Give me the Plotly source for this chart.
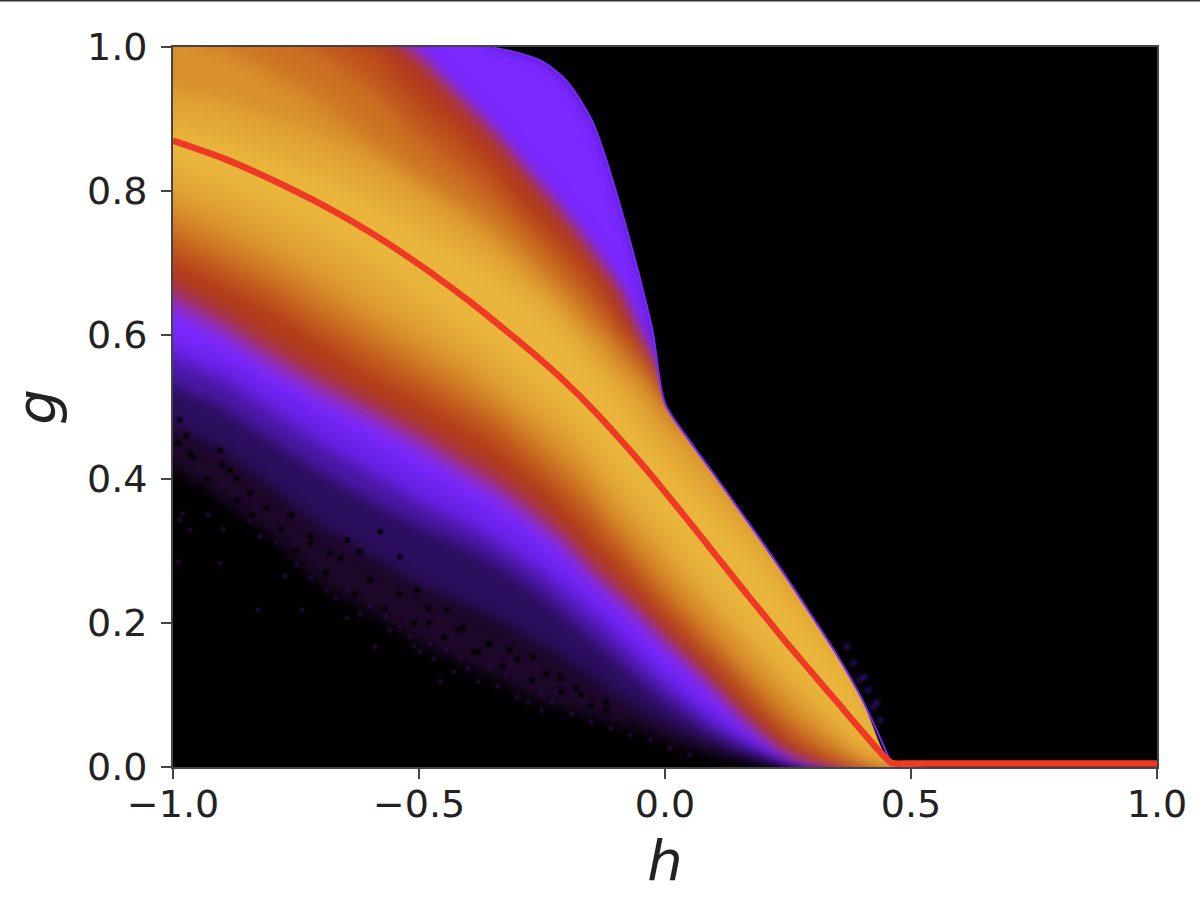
import plotly.graph_objects as go

# columns the colour bands are read at
h_pts = [-1.03, -0.9, -0.8, -0.7, -0.6, -0.5, -0.4, -0.35, -0.3, -0.25, -0.2, -0.15, -0.125, -0.1,
         -0.075, -0.05, -0.025, 0, 0.05, 0.1, 0.15, 0.2, 0.25, 0.3, 0.35, 0.4, 0.46, 0.5]

# upper edge of the populated area
edge = [1.03, 1.03, 1.03, 1.03, 1.03, 1.03, 1.03, 0.999, 0.992, 0.98, 0.953, 0.90, 0.855, 0.80,
        0.74, 0.676, 0.605, 0.505, 0.453, 0.406, 0.358, 0.31, 0.26, 0.208, 0.155, 0.095, 0.005, 0.005]

# lower limit of each colour band, outermost first
low0 = [.43, .37, .32, .255, .215, .172, .14, .125, .105, .09, .08, .07, .065, .06, .055, .05, .045, .035, .025, .016, .01, .006, .003, .001, 0, 0, 0, 0]
low_a = [.485, .44, .39, .335, .295, .255, .225, .21, .19, .17, .15, .125, .113, .10, .09, .08, .07, .06, .044, .03, .018, .01, .005, .002, 0, 0, 0, 0]
low1 = [.54, .50, .455, .41, .37, .335, .305, .285, .262, .238, .208, .178, .163, .148, .133, .118, .104, .09, .066, .045, .029, .016, .007, .003, .001, 0, 0, 0]
low2 = [.575, .54, .495, .45, .41, .37, .335, .315, .292, .268, .24, .21, .195, .178, .162, .146, .13, .114, .086, .06, .04, .024, .012, .005, .002, 0, 0, 0]
low3 = [.60, .57, .53, .49, .45, .41, .37, .35, .327, .30, .27, .24, .223, .206, .19, .173, .157, .14, .108, .08, .055, .033, .018, .008, .003, .001, 0, 0]
low4 = [.645, .595, .55, .51, .475, .437, .395, .375, .35, .324, .296, .258, .243, .229, .214, .198, .181, .164, .133, .10, .066, .037, .013, .005, .002, .001, .0003, 0]
low5 = [.665, .615, .57, .53, .495, .457, .414, .394, .37, .342, .314, .275, .26, .245, .23, .214, .196, .179, .148, .114, .078, .047, .02, .008, .003, .001, .0005, 0]
low6 = [.685, .635, .59, .55, .513, .475, .433, .412, .388, .36, .33, .292, .277, .26, .245, .23, .212, .194, .16, .126, .09, .057, .028, .012, .005, .002, .001, 0]
low7 = [.715, .67, .635, .59, .545, .51, .47, .45, .42, .395, .36, .325, .305, .29, .27, .252, .232, .215, .18, .146, .11, .074, .042, .021, .009, .003, .001, 0]
low8 = [.74, .70, .665, .62, .58, .54, .50, .48, .45, .42, .39, .355, .335, .315, .295, .275, .255, .237, .20, .165, .128, .092, .058, .032, .015, .005, .002, 0]
low9 = [.77, .73, .695, .655, .61, .57, .53, .505, .48, .45, .42, .385, .362, .34, .32, .30, .28, .26, .22, .185, .148, .113, .078, .05, .027, .01, .003, 0]
low10 = [.80, .765, .73, .69, .645, .605, .56, .535, .505, .48, .45, .415, .39, .37, .35, .33, .31, .29, .25, .212, .175, .14, .103, .072, .043, .02, .004, 0]
low11 = [.84, .805, .775, .74, .70, .65, .60, .58, .545, .52, .49, .455, .43, .41, .39, .37, .35, .33, .285, .245, .205, .17, .13, .095, .062, .03, .005, 0]

# upper limit of the bands that stop short of the edge
up4 = [1.03, 1.03, 1.03, 1.03, 1.03, .998, .928, .893, .853, .813, .773, .727, .704, .68, .642, .60, .563, .499, .447, .40, .352, .304, .254, .202, .15, .09, .005, .005]
up5 = [1.03, 1.03, 1.03, 1.03, 1.03, .985, .915, .88, .84, .80, .76, .715, .692, .668, .632, .592, .557, .498, .446, .399, .351, .303, .253, .201, .149, .09, .005, .005]
up6 = [1.03, 1.03, 1.03, 1.03, 1.03, .975, .905, .87, .83, .79, .75, .705, .683, .66, .625, .585, .55, .497, .445, .398, .35, .302, .252, .20, .148, .09, .005, .005]
up7 = [1.03, 1.03, 1.03, 1.03, 1.0, .925, .865, .83, .785, .75, .715, .675, .645, .61, .595, .57, .54, .495, .444, .397, .349, .301, .251, .199, .147, .09, .005, .005]
up8 = [1.03, 1.03, 1.03, .995, .945, .875, .82, .79, .755, .72, .685, .645, .625, .60, .58, .56, .53, .49, .443, .396, .348, .30, .25, .198, .146, .09, .005, .005]
up9 = [1.03, 1.0, .965, .925, .87, .82, .775, .75, .72, .685, .65, .61, .595, .575, .555, .54, .52, .50, .47, .43, .38, .33, .28, .225, .175, .115, .03, .02]
up10 = [.94, .925, .90, .875, .84, .80, .75, .725, .695, .665, .63, .59, .57, .55, .535, .515, .495, .47, .44, .40, .36, .32, .27, .22, .17, .11, .03, .02]
up11 = [.895, .875, .85, .825, .79, .75, .71, .69, .66, .635, .60, .56, .54, .52, .50, .47, .45, .43, .39, .355, .32, .28, .235, .195, .15, .095, .02, .02]

band_colors = ["#1c0728", "#2c0e5e", "#4a18a5", "#6a22e8", "#7a28ff", "#8c2dc8", "#a4325a", "#b03a1c",
               "#c0541d", "#cc7224", "#d8902d", "#e2a635", "#e9b53c"]

# isolated cells of the noisy lower fringe
speck_h = [-.989, -.904, -.772, -.827, -.738, -.647, -.589, -.457, -.278, -.251, -.688, -.647, -.600, -.566,
           -.539, -.518, -.498, -.478, -.444, -.417, -.400, -.356, -.322, -.254, -.220, -.749, -.789, -.823,
           -.843, -.898, -.965, -.986, -.980, -.928, -.720, -.670, -.620, -.560, -.510, -.470, -.430, -.380,
           -.340, -.300, -.230, -.190, -.150, -.110, -.070, -.030, .010, .050]
speck_g = [.285, .283, .265, .218, .218, .207, .167, .119, .089, .079, .246, .248, .223, .209,
           .195, .181, .160, .172, .163, .151, .137, .139, .130, .100, .105, .281, .311, .320,
           .343, .331, .329, .343, .352, .350, .262, .235, .212, .190, .168, .150, .132, .118,
           .112, .097, .090, .074, .062, .054, .044, .038, .026, .017]

hole_h = [-.986, -.965, -.884, -.973, -.904, -.843, -.945, -.870, -.980, -.681, -.620, -.579, -.646, -.539,
          -.504, -.443, -.410, -.356, -.315, -.268, -.213, -.760, -.720, -.600, -.480, -.380, -.170, -.120,
          -.99, -.96, -.93, -.90, -.87, -.84, -.81, -.78, -.75, -.72, -.69, -.66, -.63, -.60, -.57, -.54,
          -.51, -.48, -.45, -.42, -.39, -.36, -.33, -.30, -.27, -.24, -.21, -.18, -.15, -.12]
hole_g = [.482, .436, .412, .460, .440, .380, .389, .400, .390, .297, .299, .327, .315, .292,
          .246, .218, .194, .172, .163, .153, .125, .350, .310, .260, .200, .160, .100, .080,
          .45, .43, .40, .42, .37, .35, .36, .33, .30, .32, .27, .29, .24, .26, .22, .24,
          .20, .22, .18, .19, .16, .17, .14, .15, .12, .13, .105, .11, .085, .09]

fuzz_h = [.413, .423, .437, .396, .370, .383, .405, .430]
fuzz_g = [.107, .083, .065, .121, .167, .145, .125, .090]

# the red curve
line_h = [-1, -0.9, -0.8, -0.7, -0.6, -0.5, -0.4, -0.35, -0.3, -0.25, -0.2, -0.15, -0.1, -0.05, 0,
          0.05, 0.1, 0.15, 0.2, 0.25, 0.3, 0.35, 0.4, 0.46, 0.5, 1]
line_g = [.87, .846, .816, .782, .743, .698, .648, .621, .593, .564, .533, .499, .462, .423, .382,
          .34, .297, .254, .212, .17, .13, .09, .05, .006, .005, .005]

x_ticks = [-1.0, -0.5, 0.0, 0.5, 1.0]
x_labels = ["\u22121.0", "\u22120.5", "0.0", "0.5", "1.0"]
y_ticks = [0.0, 0.2, 0.4, 0.6, 0.8, 1.0]
y_labels = ["0.0", "0.2", "0.4", "0.6", "0.8", "1.0"]

lows = [low0, low_a, low1, low2, low3, low4, low5, low6, low7, low8, low9, low10, low11]
ups = [edge, edge, edge, edge, edge, up4, up5, up6, up7, up8, up9, up10, up11]

fig = go.Figure()
for low, up, color in zip(lows, ups, band_colors):
    fig.add_trace(go.Scatter(x=h_pts + h_pts[::-1], y=low + up[::-1], mode="lines", fill="toself",
                             fillcolor=color, line=dict(width=0, color=color), hoverinfo="skip"))

fig.add_trace(go.Scatter(x=speck_h, y=speck_g, mode="markers", hoverinfo="skip",
                         marker=dict(symbol="square", size=4, color="#2a0b3a", line=dict(width=0))))
fig.add_trace(go.Scatter(x=hole_h, y=hole_g, mode="markers", hoverinfo="skip",
                         marker=dict(symbol="square", size=5, color="#000000", line=dict(width=0))))

# black above the edge keeps that side sharp
fig.add_trace(go.Scatter(x=h_pts + [1.03, 1.03, -1.03], y=edge + [0.0, 1.03, 1.03], mode="lines", fill="toself",
                         fillcolor="black", line=dict(width=0, color="black", shape="spline", smoothing=0.8),
                         hoverinfo="skip"))
fig.add_trace(go.Scatter(x=fuzz_h, y=fuzz_g, mode="markers", hoverinfo="skip",
                         marker=dict(symbol="square", size=5, color="#3a1280", line=dict(width=0))))
fig.add_trace(go.Scatter(x=h_pts[7:-1], y=edge[7:-1], mode="lines", hoverinfo="skip",
                         line=dict(color="#7a28ff", width=2, shape="spline", smoothing=0.8)))
fig.add_trace(go.Scatter(x=line_h, y=line_g, mode="lines", hoverinfo="skip",
                         line=dict(color="#ee3a24", width=6.5, shape="spline", smoothing=0.6)))

# the dark rule along the top of the screenshot
fig.add_shape(type="line", xref="paper", yref="paper", x0=-0.18, x1=1.05, y0=1.0645, y1=1.0645,
              line=dict(color="#333333", width=2))

fig.update_layout(width=1200, height=903, showlegend=False, paper_bgcolor="white", plot_bgcolor="black",
                  margin=dict(l=173, r=43, t=47, b=136),
                  font=dict(family="DejaVu Sans", color="#222222", size=38))
fig.update_xaxes(range=[-1, 1], tickvals=x_ticks, ticktext=x_labels, ticks="outside", ticklen=10, tickwidth=2,
                 tickcolor="#444444", showgrid=False, zeroline=False, showline=True, mirror=True,
                 linecolor="#444444", linewidth=2, tickfont=dict(size=38), ticklabelstandoff=-8,
                 title=dict(text="<i>h</i>", font=dict(size=56), standoff=16))
fig.update_yaxes(range=[0, 1], tickvals=y_ticks, ticktext=y_labels, ticks="outside", ticklen=10, tickwidth=2,
                 tickcolor="#444444", showgrid=False, zeroline=False, showline=True, mirror=True,
                 linecolor="#444444", linewidth=2, tickfont=dict(size=38), ticklabelstandoff=6,
                 title=dict(text="<i>g</i>", font=dict(size=56), standoff=12))

# soften the band steps into a continuous shade, and drop the page margin
post = """
document.body.style.margin = '0';
var tr = document.querySelectorAll('.scatterlayer .trace');
tr.forEach(function (t, i) {
  if (i < 8) t.style.filter = 'blur(7px)';
  else if (i < 13) t.style.filter = 'blur(10px)';
  else if (i < 15) t.style.filter = 'blur(1px)';
  else if (i == 16) t.style.filter = 'blur(2px)';
  else if (i > 16) t.style.filter = 'blur(0.7px)';
});
"""
fig.write_html("out.html", post_script=post, config={"displayModeBar": False})
